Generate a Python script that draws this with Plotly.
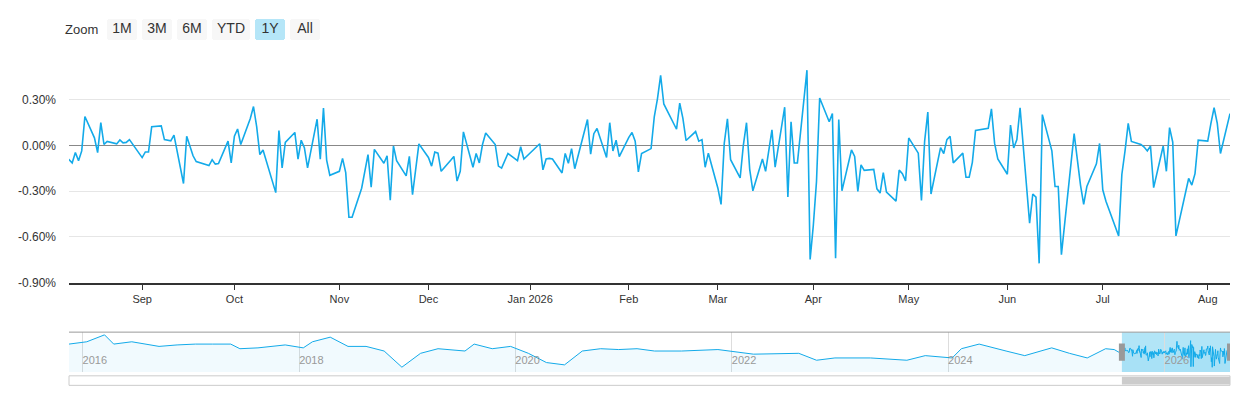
import pandas as pd
import plotly.graph_objects as go
from pandas.tseries.holiday import USFederalHolidayCalendar
from pandas.tseries.offsets import CustomBusinessDay

# Daily values (%) for the displayed year, Aug 7 2025 onward
values = [
 -0.115,-0.05,-0.115,-0.047,-0.10,-0.036,0.19,0.05,-0.047,0.15,0.006,0.026,0.01,0.036,0.017,0.02,0.038,-0.08,-0.043,-0.043,
 0.123,0.128,0.038,0.036,0.03,0.068,-0.25,0.06,-0.004,-0.068,-0.106,-0.128,-0.132,-0.094,-0.123,-0.119,0.028,-0.115,0.06,0.108,
 0.006,0.177,0.255,0.123,-0.06,-0.03,-0.31,0.098,-0.147,0.02,0.085,-0.09,0.034,-0.015,-0.147,0.172,-0.09,0.245,-0.096,-0.196,
 -0.17,-0.085,-0.179,-0.472,-0.472,-0.281,-0.06,-0.274,-0.026,-0.117,-0.068,-0.36,-0.004,-0.10,-0.2,-0.072,-0.323,0.01,-0.079,-0.136,
 -0.043,-0.051,-0.17,-0.098,-0.072,-0.234,
 -0.17,0.089,-0.143,-0.053,-0.115,0.006,0.081,0.006,-0.136,-0.149,-0.053,-0.10,-0.009,-0.089,-0.051,0.011,-0.16,-0.089,-0.085,-0.089,
 -0.181,-0.053,-0.117,-0.021,-0.153,0.17,-0.057,0.077,0.111,-0.079,0.149,-0.036,0.034,-0.074,0.053,0.085,0.028,-0.174,-0.053,-0.021,
 0.187,0.306,0.46,0.272,0.106,0.277,0.177,0.032,0.091,0.028,0.038,-0.143,-0.051,-0.281,-0.387,0.013,0.174,-0.094,-0.213,0.0,
 0.149,-0.157,-0.298,-0.089,-0.17,-0.047,0.102,-0.143,0.251,-0.338,0.155,-0.115,-0.115,0.494,-0.749,-0.526,-0.238,0.311,0.155,0.209,
 -0.74,
 0.17,-0.298,-0.03,-0.072,-0.302,-0.128,-0.164,-0.157,-0.285,-0.313,-0.179,-0.306,-0.366,-0.162,-0.185,-0.234,0.049,-0.051,-0.362,0.028,
 0.219,-0.319,-0.015,-0.053,0.038,0.06,-0.115,-0.051,-0.209,-0.209,-0.111,0.098,0.113,0.240,0.013,-0.089,-0.189,0.134,-0.017,0.038,
 0.247,-0.511,-0.319,-0.34,-0.774,0.202,-0.036,-0.27,-0.27,-0.717,0.077,-0.111,-0.26,-0.387,-0.27,-0.121,0.013,-0.291,-0.366,-0.594,
 -0.191,-0.036,0.145,0.026,0.006,-0.011,-0.036,-0.004,-0.277,-0.004,-0.17,0.117,0.021,-0.594,-0.313,-0.217,-0.26,-0.185,0.034,0.028,
 0.145,0.247,0.145,-0.053,0.209,
]
start_date = "2025-08-07"

# Coarse history shown in the navigator
hist_dates = ["2015-11-16","2016-01-15","2016-03-15","2016-04-15","2016-06-15","2016-09-15","2016-11-15","2017-01-16",
 "2017-03-15","2017-05-15","2017-06-15","2017-08-15","2017-11-15","2018-01-15","2018-02-15","2018-04-16","2018-06-15",
 "2018-08-15","2018-10-15","2018-12-14","2019-02-15","2019-04-15","2019-07-15","2019-08-15","2019-10-15","2019-12-16",
 "2020-02-14","2020-04-15","2020-06-15","2020-08-14","2020-10-15","2020-12-15","2021-02-15","2021-04-15",
 "2021-07-15","2021-11-15","2022-03-15","2022-08-15","2022-10-14","2022-12-15","2023-04-14","2023-08-15","2023-10-16",
 "2024-01-15","2024-02-15","2024-04-15","2024-07-15","2024-09-16","2024-12-16","2025-02-14","2025-04-15","2025-06-16","2025-07-15"]
hist_values = [0.33,0.44,0.77,0.33,0.44,0.22,0.29,0.33,0.33,0.33,0.11,0.15,0.29,0.15,0.44,0.66,0.22,0.22,0,-0.77,
 -0.11,0.11,0,0.33,0.11,0.22,-0.11,-0.55,-0.66,0,0.11,0.07,0.11,0,
 0,0.07,-0.15,-0.11,-0.44,-0.33,-0.33,-0.44,-0.22,-0.33,0.11,0.33,0,-0.22,0.15,-0.11,-0.33,0.11,0.07]

month_ticks = ["2025-09-02","2025-10-01","2025-11-03","2025-12-01","2026-01-02","2026-02-02","2026-03-02",
               "2026-04-01","2026-05-01","2026-06-01","2026-07-01","2026-08-03"]
month_labels = ["Sep","Oct","Nov","Dec","Jan 2026","Feb","Mar","Apr","May","Jun","Jul","Aug"]
year_ticks = ["2016-01-01","2018-01-01","2020-01-01","2022-01-01","2024-01-01","2026-01-01"]
year_labels = ["2016","2018","2020","2022","2024","2026"]
y_ticks = [-0.9,-0.6,-0.3,0.0,0.3,0.6]
y_labels = ["-0.90%","-0.60%","-0.30%","0.00%","0.30%",""]

dates = pd.date_range(start=start_date, periods=len(values),
                      freq=CustomBusinessDay(calendar=USFederalHolidayCalendar()))
all_x = list(pd.to_datetime(hist_dates)) + list(dates)
all_y = hist_values + values
view_end = dates[-1]
view_start = view_end - pd.DateOffset(years=1)
fmt = "%Y-%m-%d"

LINE = "#13aae9"
NAV_LO = -1.0
fig = go.Figure()
fig.add_trace(go.Scatter(x=dates, y=values, mode="lines",
                         line=dict(color=LINE, width=1.6), showlegend=False))
# navigator
fig.add_trace(go.Scatter(x=[all_x[0], all_x[-1]], y=[NAV_LO, NAV_LO], mode="lines",
                         line=dict(width=0), xaxis="x2", yaxis="y2", showlegend=False, hoverinfo="skip"))
fig.add_trace(go.Scatter(x=all_x, y=all_y, mode="lines", fill="tonexty", fillcolor="rgba(19,170,233,0.06)",
                         line=dict(color=LINE, width=1), xaxis="x2", yaxis="y2", showlegend=False))

nav_top = (372 - 331) / 327
main_bot = (372 - 280) / 327
shapes = [
    dict(type="rect", xref="x2", yref="paper", x0=view_start, x1=view_end, y0=0, y1=nav_top,
         fillcolor="rgba(102,204,240,0.5)", line=dict(width=0), layer="below"),
    dict(type="path", xref="paper", yref="paper",
         path=f"M 0,{nav_top} L 1,{nav_top}", line=dict(color="#999", width=1)),
    dict(type="rect", xref="paper", yref="paper", x0=0, x1=1, y0=-0.042, y1=-0.012,
         line=dict(color="#ccc", width=1), fillcolor="white"),
    dict(type="rect", xref="x2", yref="paper", x0=view_start, x1=view_end, y0=-0.039, y1=-0.015,
         line=dict(width=0), fillcolor="#cccccc"),
    dict(type="rect", xref="x2", yref="paper", x0=view_start, x1=view_start, y0=0.035, y1=0.09,
         line=dict(color="#999", width=6)),
    dict(type="rect", xref="x2", yref="paper", x0=view_end, x1=view_end, y0=0.035, y1=0.09,
         line=dict(color="#999", width=6)),
]

fig.update_layout(
    width=1232, height=392,
    margin=dict(l=57, r=10, t=37, b=28),
    paper_bgcolor="white", plot_bgcolor="white",
    font=dict(family="Liberation Sans, Arial, sans-serif", size=12, color="#333"),
    xaxis=dict(
        domain=[0, 1], anchor="y",
        range=[view_start.strftime(fmt), view_end.strftime(fmt)],
        tickvals=month_ticks, ticktext=month_labels,
        showgrid=False, showline=True, linecolor="#333", linewidth=1.5,
        ticks="outside", ticklen=6, tickcolor="#333", tickfont=dict(size=11, color="#333"),
        rangeselector=dict(
            buttons=[dict(count=1, label="1M", step="month", stepmode="backward"),
                     dict(count=3, label="3M", step="month", stepmode="backward"),
                     dict(count=6, label="6M", step="month", stepmode="backward"),
                     dict(count=1, label="YTD", step="year", stepmode="todate"),
                     dict(count=1, label="1Y", step="year", stepmode="backward"),
                     dict(step="all", label="All")],
            x=0.036, y=1.078, xanchor="left", yanchor="middle",
            bgcolor="#f7f7f7", activecolor="#b5e6f8",
            font=dict(size=14, color="#333"),
        ),
    ),
    yaxis=dict(
        domain=[main_bot, 1], anchor="x",
        range=[-0.9, 0.6], tickvals=y_ticks, ticktext=y_labels,
        showgrid=True, gridcolor="#e6e6e6", zeroline=True, zerolinecolor="#888",
        zerolinewidth=1, tickfont=dict(size=12, color="#333"), ticklabelstandoff=12,
    ),
    xaxis2=dict(
        domain=[0, 1], anchor="y2", range=[all_x[0], all_x[-1]],
        tickvals=year_ticks, ticktext=year_labels, ticklabelposition="inside right",
        showgrid=True, gridcolor="#dddddd", showline=False, ticks="",
        tickfont=dict(size=11, color="#999"),
    ),
    yaxis2=dict(domain=[0, nav_top], anchor="x2", range=[NAV_LO, 0.9], visible=False),
    shapes=shapes,
    annotations=[dict(text="Zoom", x=0.0, xref="paper", xanchor="left", xshift=-6,
                      y=1.078, yref="paper", yanchor="middle", showarrow=False,
                      font=dict(size=13, color="#333"))],
)
fig.write_html("out.html")
